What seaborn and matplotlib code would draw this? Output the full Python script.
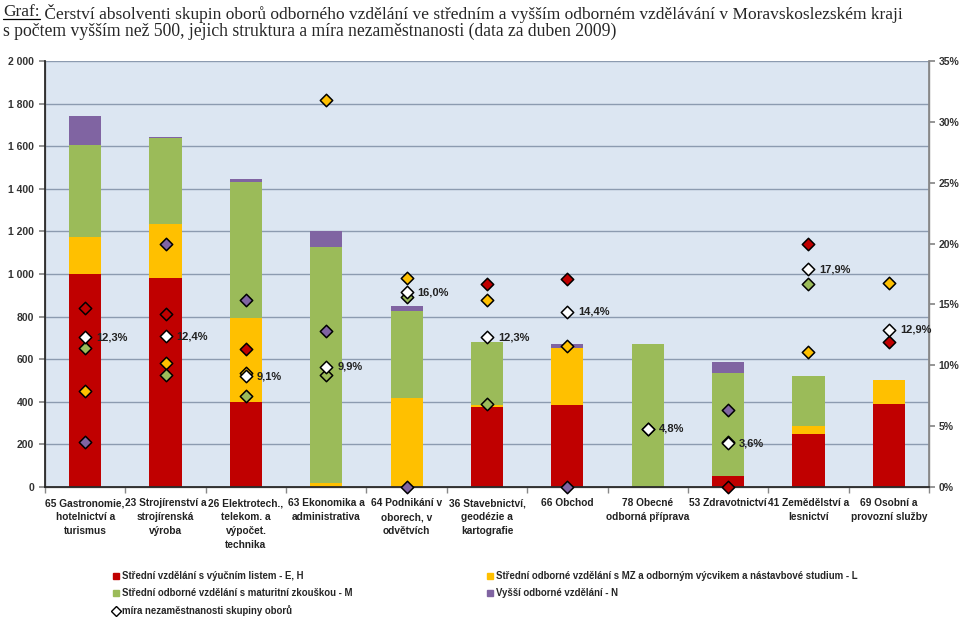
import numpy as np
import pandas as pd
import matplotlib
matplotlib.use("Agg")
import matplotlib.pyplot as plt
import seaborn as sns
from matplotlib.patches import Patch
from matplotlib.lines import Line2D

# ---------------- data ----------------
categories = [
    "65 Gastronomie,\nhotelnictví a\nturismus",
    "23 Strojírenství a\nstrojírenská\nvýroba",
    "26 Elektrotech.,\ntelekom. a\nvýpočet.\ntechnika",
    "63 Ekonomika a\nadministrativa",
    "64 Podnikání v\noborech, v\nodvětvích",
    "36 Stavebnictví,\ngeodézie a\nkartografie",
    "66 Obchod",
    "78 Obecné\nodborná příprava",
    "53 Zdravotnictví",
    "41 Zemědělství a\nlesnictví",
    "69 Osobní a\nprovozní služby",
]
red    = [1000, 980, 398, 0, 0, 374, 385, 0, 50, 250, 390]
yellow = [175, 253, 397, 20, 418, 11, 269, 0, 0, 36, 112]
green  = [431, 407, 638, 1105, 410, 297, 0, 671, 487, 236, 0]
purple = [136, 3, 12, 77, 20, 0, 17, 0, 48, 0, 0]

nan = np.nan
rate_total  = [12.3, 12.4, 9.1, 9.9, 16.0, 12.3, 14.4, 4.8, 3.6, 17.9, 12.9]
rate_red    = [14.7, 14.2, 11.3, nan, nan, 16.7, 17.1, nan, 0.0, 20.0, 11.9]
rate_yellow = [7.9, 10.2, 9.4, 31.8, 17.2, 15.4, 11.6, nan, nan, 11.1, 16.8]
rate_green  = [11.4, 9.2, 7.5, 9.2, 15.6, 6.8, nan, 4.8, 3.7, 16.7, nan]
rate_purple = [3.7, 20.0, 15.4, 12.8, 0.0, nan, 0.0, nan, 6.3, nan, nan]

legend_labels = [
    "Střední vzdělání s výučním listem - E, H",
    "Střední odborné vzdělání s MZ a odborným výcvikem a nástavbové studium - L",
    "Střední odborné vzdělání s maturitní zkouškou - M",
    "Vyšší odborné vzdělání - N",
    "míra nezaměstnanosti skupiny oborů",
]
title_prefix = "Graf:"
title_line1 = " Čerství absolventi skupin oborů odborného vzdělání ve středním a vyšším odborném vzdělávání v Moravskoslezském kraji"
title_line2 = "s počtem vyšším než 500, jejich struktura a míra nezaměstnanosti (data za duben 2009)"

C_RED, C_YEL, C_GRN, C_PUR = "#C00000", "#FFC000", "#9BBB59", "#8064A2"
BG = "#DCE6F2"
GRID = "#8C9BB0"

sns.set_theme(style="white")
SANS = ["Liberation Sans", "DejaVu Sans"]
plt.rcParams["font.family"] = SANS

fig = plt.figure(figsize=(9.59, 6.21), dpi=100)
ax = fig.add_axes([45/959, 1-487/621, (929-45)/959, (487-61)/621])
ax.set_facecolor(BG)

df = pd.DataFrame({"cat": categories, "red": red, "yellow": yellow,
                   "green": green, "purple": purple})
df["c1"] = df["red"]
df["c2"] = df["c1"] + df["yellow"]
df["c3"] = df["c2"] + df["green"]
df["c4"] = df["c3"] + df["purple"]

for col, colr in [("c4", C_PUR), ("c3", C_GRN), ("c2", C_YEL), ("c1", C_RED)]:
    sns.barplot(data=df, x="cat", y=col, color=colr, saturation=1, width=0.4,
                errorbar=None, linewidth=0, ax=ax, zorder=2)

ax.set_xlim(-0.5, len(categories) - 0.5)
ax.set_ylim(0, 2000)
yt = np.arange(0, 2001, 200)
ax.set_yticks(yt)
ax.set_yticklabels([f"{v:,}".replace(",", " ") for v in yt], fontsize=7.5,
                   fontweight="bold", color="#333333")
ax.grid(axis="y", color=GRID, linewidth=1, zorder=0)
ax.set_axisbelow(True)
ax.set_xlabel("")
ax.set_ylabel("")
ax.set_xticks(range(len(categories)))
ax.set_xticklabels(categories, fontsize=7.3, fontweight="bold", color="#222222",
                   linespacing=1.5)
ax.tick_params(axis="x", length=0, pad=8)
ax.tick_params(axis="y", length=4, color="#888888", left=True, pad=4, direction="out")
ax.set_xticks(np.arange(-0.5, len(categories), 1), minor=True)
ax.tick_params(axis="x", which="minor", length=4, color="#888888", bottom=True, direction="out")
ax.spines["top"].set_visible(False)
for s in ["left", "bottom", "right"]:
    ax.spines[s].set_color("#888888")
    ax.spines[s].set_linewidth(1)

ax2 = ax.twinx()
ax2.set_ylim(0, 35)
pt = np.arange(0, 36, 5)
ax2.set_yticks(pt)
ax2.set_yticklabels([f"{v}%" for v in pt], fontsize=7.5, fontweight="bold", color="#333333")
ax2.tick_params(axis="y", length=4, color="#888888", right=True, pad=3, direction="out")
ax2.spines["top"].set_visible(False)
ax2.spines["right"].set_color("#888888")
ax2.grid(False)

xpos = np.arange(len(categories))
for vals, colr in [(rate_purple, C_PUR), (rate_yellow, C_YEL), (rate_green, C_GRN),
                   (rate_red, C_RED), (rate_total, "white")]:
    sns.scatterplot(x=xpos, y=vals, marker="D", s=40, color=colr, edgecolor="black",
                    linewidth=1.1, ax=ax2, zorder=5, legend=False, clip_on=False)
ax2.set_ylabel("")

for x, v in zip(xpos, rate_total):
    ax2.annotate(f"{v:.1f}%".replace(".", ","), (x, v), xytext=(8, 0),
                 textcoords="offset points", ha="left", va="center",
                 fontsize=8, fontweight="bold", color="#222222", zorder=6)

# legends
h_left = [Patch(color=C_RED), Patch(color=C_GRN),
          Line2D([], [], marker="D", color="white", markeredgecolor="black",
                 linestyle="none", markersize=5)]
l_left = [legend_labels[0], legend_labels[2], legend_labels[4]]
h_right = [Patch(color=C_YEL), Patch(color=C_PUR)]
l_right = [legend_labels[1], legend_labels[3]]
lkw = dict(frameon=False, handlelength=0.6, handleheight=0.6,
           handletextpad=0.35, labelspacing=0.75, borderpad=0, borderaxespad=0,
           prop={"family": SANS, "weight": "bold", "size": 6.9})
fig.legend(h_left, l_left, loc="upper left", bbox_to_anchor=(113/959, 1-571/621), **lkw)
fig.legend(h_right, l_right, loc="upper left", bbox_to_anchor=(487/959, 1-571/621), **lkw)

# title
TFONT = ["Liberation Serif", "DejaVu Serif"]
t0 = fig.text(3/959, 1-4/621, title_prefix, ha="left", va="top", fontsize=12.5,
              family=TFONT)
fig.canvas.draw()
r = fig.canvas.get_renderer()
bb = t0.get_window_extent(r)
inv = fig.transFigure.inverted()
(x0, y0), (x1, y1) = inv.transform([[bb.x0, bb.y0], [bb.x1, bb.y1]])
fig.text(x1, 1-4/621, title_line1, ha="left", va="top", fontsize=12.5, family=TFONT)
fig.add_artist(Line2D([x0, x1], [y0 + 0.001, y0 + 0.001], color="black", linewidth=0.9,
                      transform=fig.transFigure))
fig.text(3/959, 1-23/621, title_line2, ha="left", va="top", fontsize=12.7, family=TFONT)

fig.savefig("out.png", dpi=100, facecolor="white")
